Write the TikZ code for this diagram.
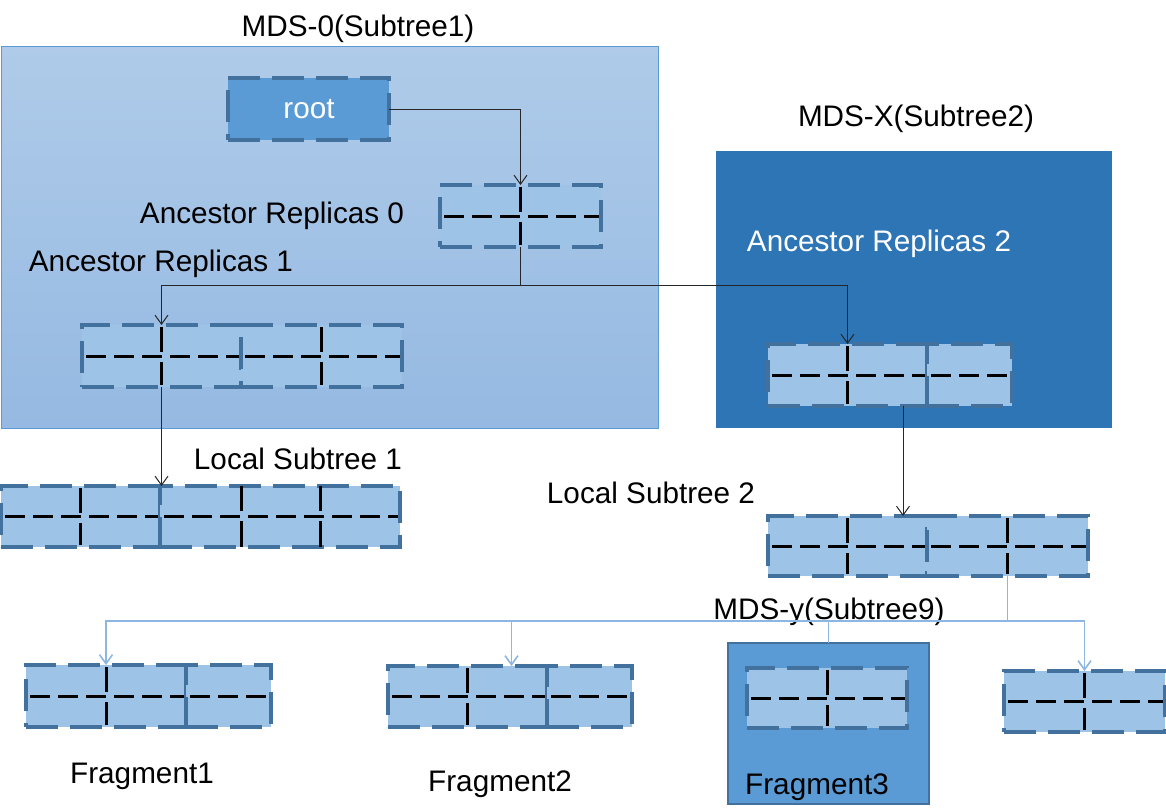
\documentclass[tikz,border=0pt]{standalone}
\usepackage{fontspec}
\setmainfont{Liberation Sans}
\usetikzlibrary{arrows.meta,calc}

\definecolor{paleblue}{HTML}{9DC3E6}
\definecolor{edgeblue}{HTML}{41719C}
\definecolor{midblue}{HTML}{5B9BD5}
\definecolor{deepblue}{HTML}{2E75B6}
\definecolor{bgtop}{HTML}{AFCBE9}
\definecolor{bgbot}{HTML}{95B9E2}
\definecolor{linkblue}{HTML}{8DB6E2}

\tikzset{
  label/.style={font=\fontsize{29.7}{34}\selectfont, inner sep=0pt, anchor=base},
  region/.style={inner sep=0pt, outer sep=0pt, anchor=north west},
  cell/.style={region, fill=paleblue, draw=edgeblue, line width=4pt,
    dash pattern=on 32pt off 12pt, minimum height=61pt},
  hdiv/.style={black, line width=3pt, dash pattern=on 20pt off 8pt},
  vdiv/.style={black, line width=3pt, dash pattern=on 25pt off 10pt on 40pt},
  link/.style={black!85, line width=1pt, -{Straight Barb[length=9pt,width=13pt]}},
  plainlink/.style={black!85, line width=1pt},
  flink/.style={linkblue, line width=1.6pt, -{Straight Barb[length=9pt,width=13pt]}},
  plainflink/.style={linkblue, line width=1.6pt},
}

\begin{document}
\begin{tikzpicture}[x=1pt, y=-1pt]
\useasboundingbox (0,0) rectangle (1166,807);

% ---------- server regions ----------
\node[region, draw=midblue, line width=1pt, top color=bgtop, bottom color=bgbot,
  minimum width=657pt, minimum height=382pt] (mds0) at (1,46) {};
\node[region, fill=deepblue, minimum width=396pt, minimum height=277pt] (mdsx) at (716,151) {};
\node[region, fill=midblue, draw=edgeblue, line width=2pt,
  minimum width=201pt, minimum height=161pt] (mdsy) at (728,643) {};

% ---------- titles and captions ----------
\node[label] (t0) at (358,36) {MDS-0(Subtree1)};
\node[label] (tx) at (916,126) {MDS-X(Subtree2)};
\node[label] (ty) at (829,619) {MDS-y(Subtree9)};
\node[label] (ar0) at (272,223) {Ancestor Replicas 0};
\node[label] (ar1) at (161,271) {Ancestor Replicas 1};
\node[label, white] (ar2) at (879,251) {Ancestor Replicas 2};
\node[label] (ls1) at (298,469) {Local Subtree 1};
\node[label] (ls2) at (651,503) {Local Subtree 2};
\node[label] (fr1) at (142,783) {Fragment1};
\node[label] (fr2) at (500,791) {Fragment2};
\node[label] (fr3) at (817,794) {Fragment3};

% ---------- root ----------
\node[cell, fill=midblue, minimum width=161pt, minimum height=62pt] (root) at (228,78) {};
\node[label, white] (roottext) at (309,118) {root};

% ---------- record cells ----------
\node[cell, minimum width=161pt, minimum height=62pt] (a0) at (440,185) {};
\node[cell, minimum width=159pt, minimum height=62pt] (b1a) at (82,325) {};
\node[cell, minimum width=161pt, minimum height=62pt] (b1b) at (241,325) {};
\node[cell, minimum width=159pt, minimum height=62pt] (x1a) at (768,344) {};
\node[cell, minimum width=85pt, minimum height=62pt] (x1b) at (927,344) {};
\node[cell, minimum width=159pt] (l1a) at (1,486) {};
\node[cell, minimum width=240pt] (l1b) at (160,486) {};
\node[cell, minimum width=159pt, minimum height=60pt] (s2a) at (768,516) {};
\node[cell, minimum width=161pt, minimum height=60pt] (s2b) at (927,516) {};
\node[cell, minimum width=160pt, minimum height=62pt] (f1a) at (26,665) {};
\node[cell, minimum width=85pt, minimum height=62pt] (f1b) at (186,665) {};
\node[cell, minimum width=159pt] (f2a) at (388,666) {};
\node[cell, minimum width=85pt] (f2b) at (547,666) {};
\node[cell, minimum width=160pt, minimum height=60pt] (m3) at (747,668) {};
\node[cell, minimum width=161pt] (r4) at (1004,671) {};

% horizontal dashed dividers
\foreach \c in {a0,b1a,b1b,x1a,x1b,l1a,l1b,s2a,s2b,f1a,f1b,f2a,f2b,m3,r4}
  \draw[hdiv] ([xshift=4pt]\c.west) -- ([xshift=-2pt]\c.east);

% vertical dividers
\foreach \c in {a0,b1a,b1b,x1a,l1a,s2a,s2b,f1a,f2a,m3,r4}
  \draw[vdiv] ([yshift=-2pt]\c.north) -- ([yshift=2pt]\c.south);
\draw[vdiv] ($(l1b.north west)!0.338!(l1b.north east)$) -- ($(l1b.south west)!0.338!(l1b.south east)$);
\draw[vdiv] ($(l1b.north west)!0.67!(l1b.north east)$) -- ($(l1b.south west)!0.67!(l1b.south east)$);

% ---------- connectors ----------
\draw[link] (root.east) -| (a0.north);
\path (a0.south) ++(0,38) coordinate (j1);
\draw[plainlink] (a0.south) -- (j1);
\draw[link] (j1) -| (b1a.north);
\draw[link] (j1) -| (x1a.north);
\draw[link] (b1a.south) -- (b1a.south |- l1b.north);
\draw[link] ([xshift=-24pt]x1a.south east) -- ([xshift=-24pt]x1a.south east |- s2a.north);

\path (s2b.south) ++(0,45) coordinate (j2);
\draw[plainflink] (s2b.south) -- (j2);
\draw[flink] (j2) -| (f1a.north);
\draw[flink] (j2) -| (r4.north);
\draw[flink] ([xshift=44pt]f2a.north |- j2) -- ([xshift=44pt]f2a.north);
\draw[plainflink] (mdsy.north |- j2) -- (mdsy.north);
\end{tikzpicture}
\end{document}
